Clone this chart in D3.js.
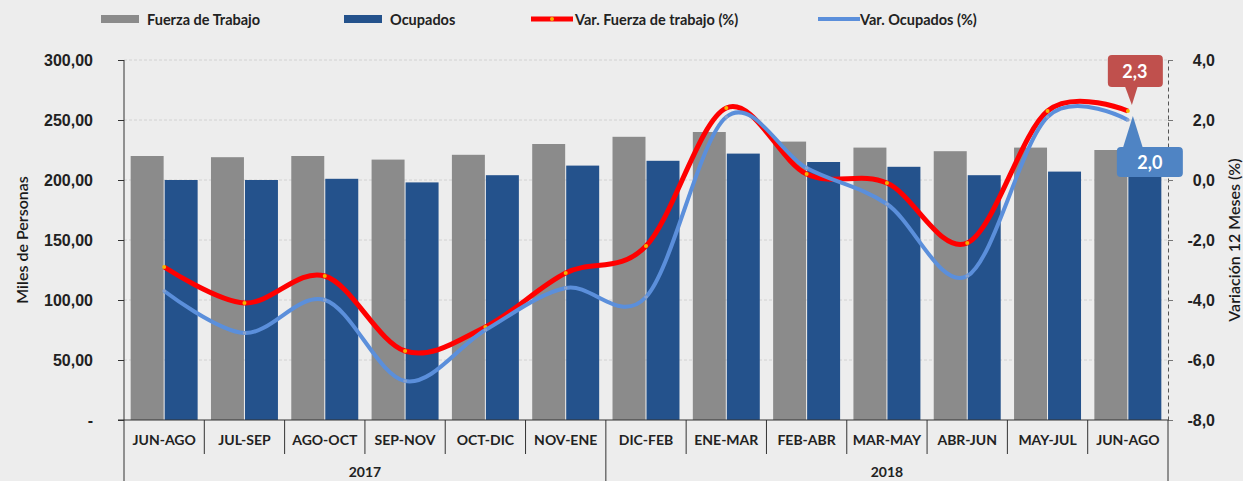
<!DOCTYPE html>
<html lang="es">
<head>
<meta charset="UTF-8">
<script src="https://d3js.org/d3.v7.min.js"></script>
<title>Fuerza de Trabajo y Ocupados</title>
<style>
  body { margin: 0; background: #ededed; }
  svg { display: block; font-family: Lato, "Open Sans", sans-serif; }
  .tick text { font-weight: bold; fill: #222; }
</style>
</head>
<body>
<div id="chart"></div>
<script>
// datos
var categorias = ['JUN-AGO', 'JUL-SEP', 'AGO-OCT', 'SEP-NOV', 'OCT-DIC', 'NOV-ENE',
                  'DIC-FEB', 'ENE-MAR', 'FEB-ABR', 'MAR-MAY', 'ABR-JUN', 'MAY-JUL', 'JUN-AGO'];
var anios = ['2017', '2017', '2017', '2017', '2017', '2017',
             '2018', '2018', '2018', '2018', '2018', '2018', '2018'];
var fuerzaTrabajo = [220, 219, 220, 217, 221, 230, 236, 240, 232, 227, 224, 227, 225];
var ocupados      = [200, 200, 201, 198, 204, 212, 216, 222, 215, 211, 204, 207, 205];
var varFuerza     = [-2.9, -4.1, -3.2, -5.7, -4.9, -3.1, -2.2, 2.4, 0.2, -0.1, -2.1, 2.3, 2.3];
var varOcupados   = [-3.7, -5.1, -4.0, -6.7, -5.0, -3.6, -3.9, 2.1, 0.4, -0.8, -3.2, 2.1, 2.0];
var ticksIzq = [0, 50, 100, 150, 200, 250, 300];
var ticksDer = [-8, -6, -4, -2, 0, 2, 4];

var width = 1243, height = 481;
var mLeft = 124, mRight = 1168, mTop = 60, mBottom = 420;

var gris = '#8b8b8b', azul = '#24528c', rojo = '#ff0000', celeste = '#5b8fdb';

var loc = d3.formatLocale({decimal: ',', thousands: '.', grouping: [3], currency: ['', ''], minus: '-'});
var fmt2 = loc.format('.2f'), fmt1 = loc.format('.1f');

var svg = d3.select('#chart').append('svg')
    .attr('width', width)
    .attr('height', height);

svg.append('rect').attr('width', width).attr('height', height).attr('fill', '#ededed');

var idx = d3.range(categorias.length);
var x0 = d3.scaleBand().domain(idx).range([mLeft, mRight]).paddingInner(0.166).paddingOuter(0.083);
var x1 = d3.scaleBand().domain(['f', 'o']).range([0, x0.bandwidth()]).paddingInner(0.03);
var y = d3.scaleLinear().domain([0, 300]).range([mBottom, mTop]);
var y2 = d3.scaleLinear().domain([-8, 4]).range([mBottom, mTop]);
var cx = function(i) { return x0(i) + x0.bandwidth() / 2; };

// rejilla
svg.append('g').selectAll('line')
    .data(ticksIzq.filter(function(d) { return d > 0; }))
    .enter().append('line')
    .attr('x1', mLeft).attr('x2', mRight)
    .attr('y1', function(d) { return y(d); }).attr('y2', function(d) { return y(d); })
    .attr('stroke', '#d2d2d2').attr('stroke-dasharray', '3,2');

// barras
var grupos = svg.append('g').selectAll('g')
    .data(idx).enter().append('g')
    .attr('transform', function(i) { return 'translate(' + x0(i) + ',0)'; });

grupos.append('rect')
    .attr('x', x1('f')).attr('width', x1.bandwidth())
    .attr('y', function(i) { return y(fuerzaTrabajo[i]); })
    .attr('height', function(i) { return y(0) - y(fuerzaTrabajo[i]); })
    .attr('fill', gris);

grupos.append('rect')
    .attr('x', x1('o')).attr('width', x1.bandwidth())
    .attr('y', function(i) { return y(ocupados[i]); })
    .attr('height', function(i) { return y(0) - y(ocupados[i]); })
    .attr('fill', azul);

// eje izquierdo
var ejeIzq = svg.append('g')
    .attr('transform', 'translate(' + mLeft + ',0)')
    .call(d3.axisLeft(y).tickValues(ticksIzq).tickSizeInner(6).tickSizeOuter(0).tickPadding(25)
        .tickFormat(function(d) { return d === 0 ? '-' : fmt2(d); }));
ejeIzq.select('.domain').remove();
ejeIzq.selectAll('.tick line').attr('stroke', '#333');
ejeIzq.selectAll('.tick text').style('font-size', '16px');
svg.append('line').attr('x1', mLeft).attr('x2', mLeft).attr('y1', mTop).attr('y2', height)
    .attr('stroke', '#333');

// eje derecho
var ejeDer = svg.append('g')
    .attr('transform', 'translate(' + mRight + ',0)')
    .call(d3.axisRight(y2).tickValues(ticksDer).tickSizeInner(5).tickSizeOuter(0)
        .tickFormat(function(d) { return fmt1(d); }));
ejeDer.select('.domain').attr('stroke', '#555').attr('stroke-dasharray', '4,3');
ejeDer.selectAll('.tick line').attr('stroke', '#777');
ejeDer.selectAll('.tick text').style('font-size', '16px')
    .attr('text-anchor', 'end').attr('x', 47);
svg.append('line').attr('x1', mRight).attr('x2', mRight).attr('y1', mBottom).attr('y2', height)
    .attr('stroke', '#333');

// eje x con categorias y anios
svg.append('line').attr('x1', mLeft - 6).attr('x2', mRight).attr('y1', mBottom).attr('y2', mBottom)
    .attr('stroke', '#333');

var limites = d3.range(categorias.length + 1).map(function(i) { return mLeft + i * x0.step(); });
svg.append('g').selectAll('line')
    .data(limites.slice(1, -1)).enter().append('line')
    .attr('x1', function(d) { return d; }).attr('x2', function(d) { return d; })
    .attr('y1', mBottom).attr('y2', function(d, i) {
        return anios[i] !== anios[i + 1] ? height : mBottom + 34;
    })
    .attr('stroke', '#333');

svg.append('g').selectAll('text')
    .data(idx).enter().append('text')
    .attr('x', cx).attr('y', mBottom + 25)
    .attr('text-anchor', 'middle')
    .style('font-size', '14px').style('font-weight', 'bold').attr('fill', '#222')
    .text(function(i) { return categorias[i]; });

var listaAnios = Array.from(new Set(anios));
svg.append('g').selectAll('text')
    .data(listaAnios).enter().append('text')
    .attr('x', function(a) {
        var ii = idx.filter(function(i) { return anios[i] === a; });
        return (limites[ii[0]] + limites[ii[ii.length - 1] + 1]) / 2;
    })
    .attr('y', mBottom + 57)
    .attr('text-anchor', 'middle')
    .style('font-size', '14px').style('font-weight', 'bold').attr('fill', '#222')
    .text(function(a) { return a; });

// titulos de ejes
svg.append('text')
    .attr('transform', 'translate(28,' + (mTop + mBottom) / 2 + ') rotate(-90)')
    .attr('text-anchor', 'middle').style('font-size', '16px').style('font-weight', '600')
    .attr('fill', '#1a1a1a')
    .text('Miles de Personas');
svg.append('text')
    .attr('transform', 'translate(1240,' + (mTop + mBottom) / 2 + ') rotate(-90)')
    .attr('text-anchor', 'middle').style('font-size', '16px').style('font-weight', '600')
    .attr('fill', '#1a1a1a')
    .text('Variación 12 Meses (%)');

// lineas suavizadas
var linea = function(serie) {
    return d3.line()
        .x(function(d, i) { return cx(i); })
        .y(function(d) { return y2(d); })
        .curve(d3.curveCardinal.tension(0))(serie);
};

svg.append('path').attr('d', linea(varFuerza))
    .attr('fill', 'none').attr('stroke', rojo).attr('stroke-width', 5);
svg.append('g').selectAll('circle').data(varFuerza).enter().append('circle')
    .attr('cx', function(d, i) { return cx(i); }).attr('cy', function(d) { return y2(d); })
    .attr('r', 2).attr('fill', '#f5b400');

svg.append('path').attr('d', linea(varOcupados))
    .attr('fill', 'none').attr('stroke', celeste).attr('stroke-width', 4);
svg.append('g').selectAll('circle').data(varOcupados).enter().append('circle')
    .attr('cx', function(d, i) { return cx(i); }).attr('cy', function(d) { return y2(d); })
    .attr('r', 1.8).attr('fill', '#8aa2cc');

// etiquetas del ultimo dato
var n = categorias.length - 1;
var pr = [cx(n), y2(varFuerza[n])];
var pb = [cx(n), y2(varOcupados[n])];

var cr = svg.append('g').attr('transform', 'translate(' + (pr[0] + 4) + ',' + (pr[1] - 6) + ')');
cr.append('rect').attr('x', -24).attr('y', -50).attr('width', 55).attr('height', 32).attr('rx', 4)
    .attr('fill', '#c0504d');
cr.append('path').attr('d', 'M-7,-19 L0,0 L6,-19 Z').attr('fill', '#c0504d');
cr.append('text').attr('x', 3).attr('y', -27).attr('text-anchor', 'middle')
    .style('font-size', '18px').style('font-weight', 'bold').attr('fill', '#fff')
    .text(fmt1(varFuerza[n]));

var cb = svg.append('g').attr('transform', 'translate(' + (pb[0] + 5) + ',' + (pb[1] - 4) + ')');
cb.append('rect').attr('x', -16).attr('y', 31).attr('width', 66).attr('height', 30).attr('rx', 4)
    .attr('fill', '#4f84c4');
cb.append('path').attr('d', 'M-10,32 L0,0 L10,32 Z').attr('fill', '#4f84c4');
cb.append('text').attr('x', 17).attr('y', 53).attr('text-anchor', 'middle')
    .style('font-size', '18px').style('font-weight', 'bold').attr('fill', '#fff')
    .text(fmt1(varOcupados[n]));

// leyenda
var leyenda = svg.append('g').style('font-size', '14.5px').style('font-weight', 'bold');
leyenda.append('rect').attr('x', 101).attr('y', 15).attr('width', 38).attr('height', 8).attr('fill', gris);
leyenda.append('text').attr('x', 147).attr('y', 25).attr('fill', '#222').text('Fuerza de Trabajo');
leyenda.append('rect').attr('x', 344).attr('y', 15).attr('width', 38).attr('height', 8).attr('fill', azul);
leyenda.append('text').attr('x', 390).attr('y', 25).attr('fill', '#222').text('Ocupados');
leyenda.append('line').attr('x1', 531).attr('x2', 573).attr('y1', 19).attr('y2', 19)
    .attr('stroke', rojo).attr('stroke-width', 5);
leyenda.append('circle').attr('cx', 552).attr('cy', 19).attr('r', 2).attr('fill', '#f5b400');
leyenda.append('text').attr('x', 575).attr('y', 25).attr('fill', '#222').text('Var. Fuerza de trabajo (%)');
leyenda.append('line').attr('x1', 818).attr('x2', 860).attr('y1', 19).attr('y2', 19)
    .attr('stroke', celeste).attr('stroke-width', 4);
leyenda.append('text').attr('x', 860).attr('y', 25).attr('fill', '#222').text('Var. Ocupados (%)');
</script>
</body>
</html>
